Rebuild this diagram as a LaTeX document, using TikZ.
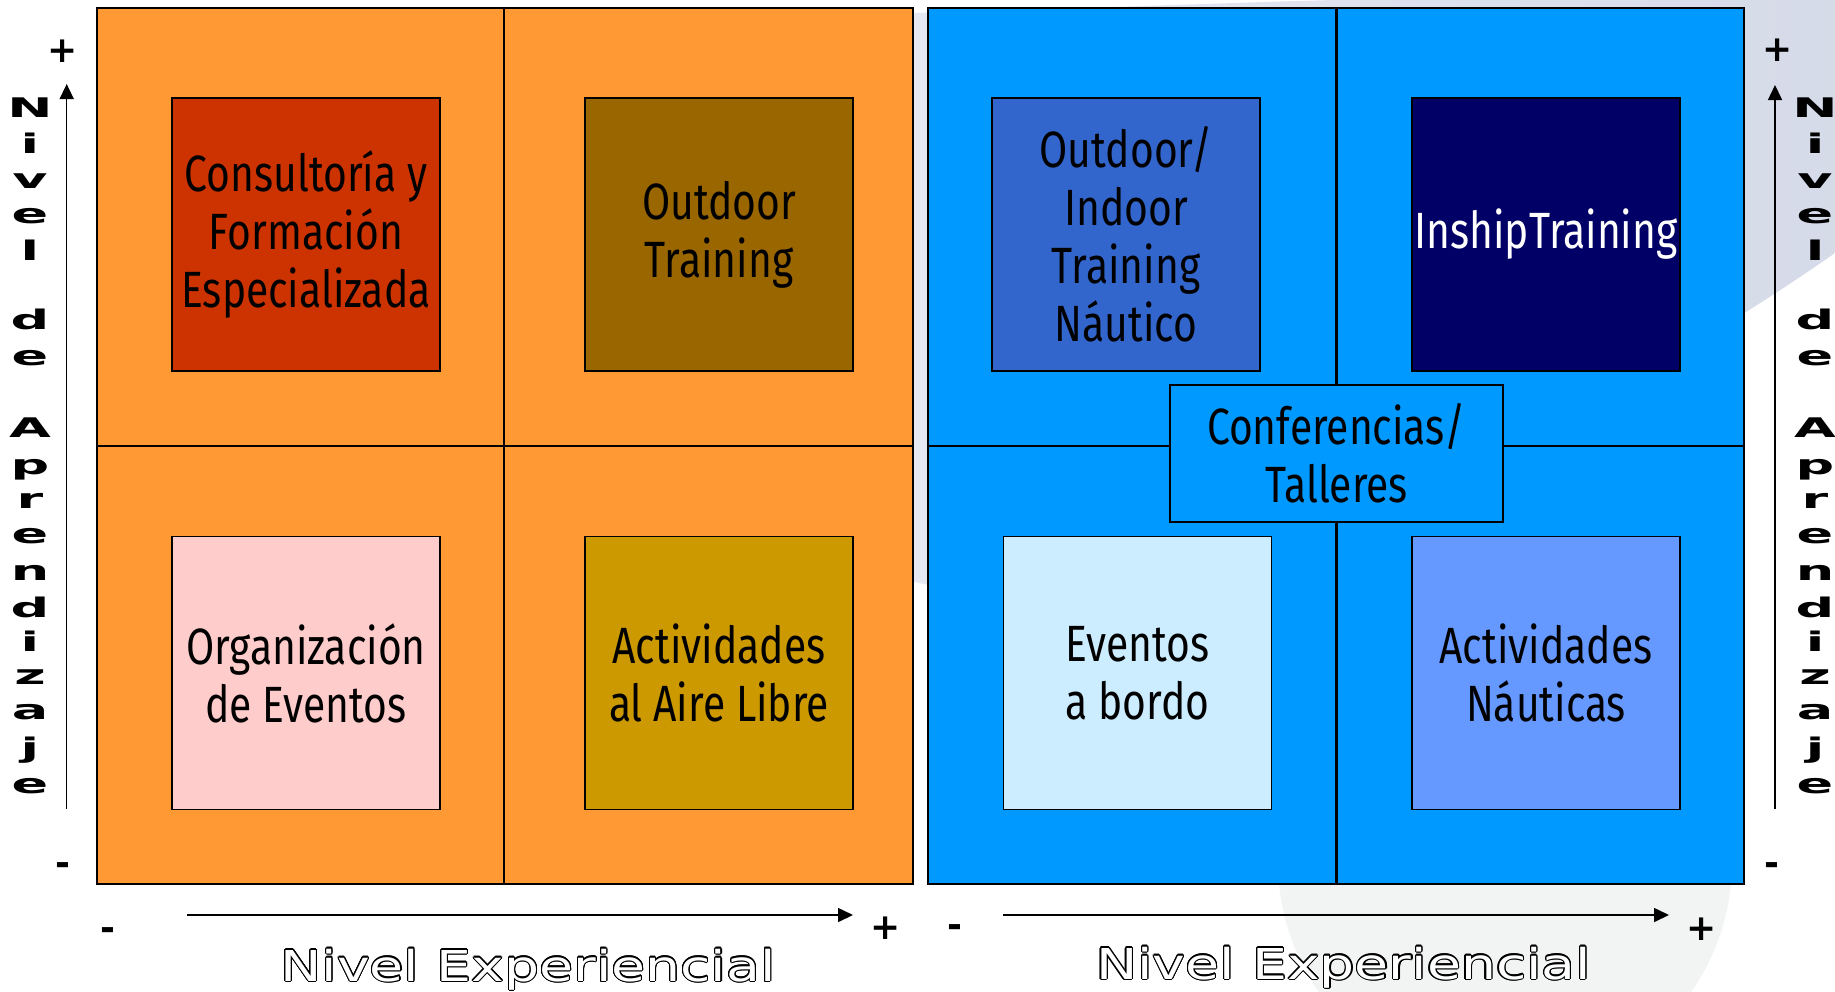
\documentclass[tikz,border=0pt]{standalone}
\usepackage{fontspec}
\setmainfont{Fira Sans}
\newfontfamily\boxfont[FakeStretch=0.8]{Fira Sans}
\newfontfamily\axfont[FakeStretch=1.3]{DejaVu Sans}
\newfontfamily\stackfont[FakeStretch=2.0]{DejaVu Sans}
\newfontfamily\signfont{DejaVu Sans}
\usetikzlibrary{arrows.meta,calc}
\definecolor{orangeP}{HTML}{FF9933}
\definecolor{blueP}{HTML}{0099FF}
\definecolor{cRed}{HTML}{CC3300}
\definecolor{cBrown}{HTML}{996600}
\definecolor{cPink}{HTML}{FFCCCC}
\definecolor{cGold}{HTML}{CC9900}
\definecolor{cMid}{HTML}{3366CC}
\definecolor{cNavy}{HTML}{000066}
\definecolor{cPale}{HTML}{CCECFF}
\definecolor{cPeri}{HTML}{6699FF}
\definecolor{bgL}{HTML}{E8EAF3}
\definecolor{bgR}{HTML}{D5DAE8}
\definecolor{bgB}{HTML}{F2F4F4}
\newcommand{\outlinelabel}[3]{%
  \foreach \ang in {0,20,...,340}{%
    \node[axlab, text=black] (#1c\ang) at ($(#2)+(\ang:1.1)$) {#3};}
  \node[axlab, text=white] (#1) at (#2) {#3};}
\begin{document}
\begin{tikzpicture}[x=1pt,y=-1pt,
  panel/.style={line width=2pt, draw=black},
  divider/.style={line width=2.5pt, draw=black},
  qbox/.style={draw=black, line width=1.5pt, minimum width=268pt, minimum height=273pt,
    inner sep=0pt, align=center, font=\boxfont\fontsize{51}{58}\selectfont},
  stackl/.style={font=\stackfont\bfseries\fontsize{27}{27}\selectfont, inner sep=0pt},
  pmsign/.style={font=\signfont\bfseries\fontsize{36}{36}\selectfont, inner sep=0pt, anchor=base},
  axlab/.style={font=\axfont\fontsize{42.5}{42.5}\selectfont, inner sep=0pt, anchor=base},
  axarrow/.style={line width=1.5pt, -{Triangle[length=15pt,width=14pt]}}
]
\useasboundingbox (0,0) rectangle (1835,991);
\fill[white] (0,0) rectangle (1835,991);

% background decorative shapes
\shade[left color=bgL, right color=bgR]
  (850,16) -- (915,13) .. controls (1100,8) and (1250,2) .. (1335,0)
  -- (1335,-30) -- (1870,-30) -- (1870,228) -- (1835,253)
  .. controls (1535,463) and (1115,632) .. (915,582) -- (850,590) -- cycle;
\fill[bgB] (1505,862) circle (227pt);

% panels
\draw[panel, fill=orangeP] (97,8) rectangle (913,884);
\draw[divider] (504,8) -- (504,884);
\draw[divider] (97,446) -- (913,446);
\draw[panel, fill=blueP] (928,8) rectangle (1744,884);
\draw[divider] (1336.5,8) -- (1336.5,884);
\draw[divider] (928,446) -- (1744,446);

% quadrant boxes
\node[qbox, fill=cRed] (consul) at (306,234.5) {Consultoría y\\Formación\\Especializada};
\node[qbox, fill=cBrown] (outdoor) at (719,234.5) {Outdoor\\Training};
\node[qbox, fill=cPink] (organ) at (306,673) {Organización\\de Eventos};
\node[qbox, fill=cGold] (aire) at (719,673) {Actividades\\al Aire Libre};
\node[qbox, fill=cMid] (nautico) at (1126,234.5) {Outdoor/\\Indoor\\Training\\Náutico};
\node[qbox, fill=cNavy, text=white] (inship) at (1546,234.5) {InshipTraining};
\node[qbox, fill=cPale] (eventos) at (1137.5,673) {Eventos\\a bordo};
\node[qbox, fill=cPeri] (nauticas) at (1546,673) {Actividades\\Náuticas};
\node[qbox, fill=blueP, minimum width=333pt, minimum height=137pt] (confer) at (1336.5,453.5) {Conferencias/\\Talleres};

% axes
\coordinate (lyb) at (66.7,809); \coordinate (lyt) at (66.7,84);
\coordinate (ryb) at (1775,809); \coordinate (ryt) at (1775,85);
\coordinate (lxl) at (187,915); \coordinate (lxr) at (853,915);
\coordinate (rxl) at (1003,915); \coordinate (rxr) at (1669,915);
\draw[axarrow] (lyb) -- (lyt);
\draw[axarrow] (ryb) -- (ryt);
\draw[axarrow] (lxl) -- (lxr);
\draw[axarrow] (rxl) -- (rxr);

% signs
\node[pmsign] (lplus) at (63,62.4) {+};
\node[pmsign] (lminus) at (62.5,875.5) {-};
\node[pmsign] (rplus) at (1778,61.4) {+};
\node[pmsign] (rminus) at (1772,875) {-};
\node[pmsign] (blminus) at (108,940) {-};
\node[pmsign] (blplus) at (886,939.4) {+};
\node[pmsign] (brminus) at (955,937.5) {-};
\node[pmsign] (brplus) at (1702,940.4) {+};

% stacked vertical labels
\foreach \ch/\yy [count=\i] in {N/108,i/143,v/181,e/216,l/250,d/319,e/358,A/428,p/470,r/501,e/536.5,n/572.5,d/607.5,i/641,z/677.5,a/712,j/750,e/786}{
  \node[stackl] (vl\i) at (30,\yy) {\ch};
  \node[stackl] (vr\i) at (1815,\yy) {\ch};
}

% horizontal axis titles (outlined)
\outlinelabel{hl}{528,981}{Nivel Experiencial}
\outlinelabel{hr}{1343.5,979}{Nivel Experiencial}
\end{tikzpicture}
\end{document}
